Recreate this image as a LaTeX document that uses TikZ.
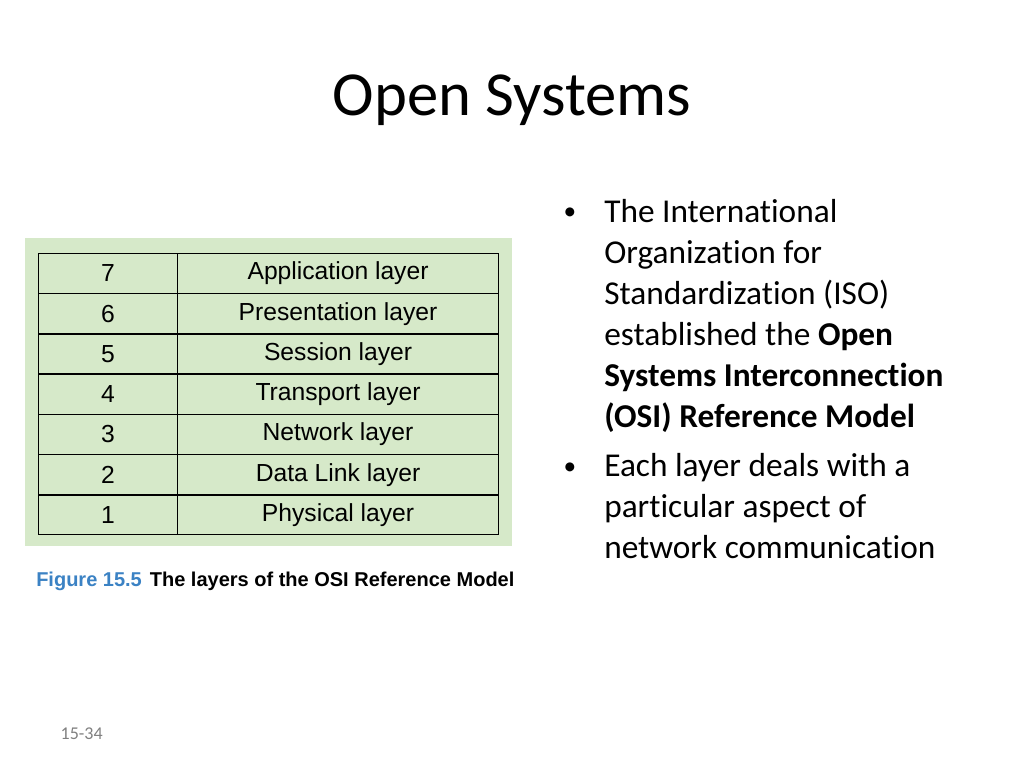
\documentclass[tikz,border=0pt]{standalone}
\usepackage{fontspec}
\setmainfont{Carlito}[Ligatures=NoCommon]
\newfontfamily\arialfont{Liberation Sans}
\usetikzlibrary{chains,positioning}
\definecolor{figgreen}{HTML}{D6E9C9}
\definecolor{figblue}{HTML}{3B82C4}
\begin{document}
\begin{tikzpicture}[x=0.75pt,y=-0.75pt]
        \useasboundingbox[fill=white] (0,0) rectangle (1024,768);

        \tikzstyle{num}=[draw,thick,minimum width=104pt,minimum height=29.8pt,font=\arialfont\fontsize{18.5}{21}\selectfont,inner sep=0pt]
        \tikzstyle{layer}=[num,minimum width=240.5pt]
        \tikzstyle{bullet}=[anchor=north west,align=left,font=\fontsize{25}{30.8}\selectfont,inner sep=0pt]
        \tikzstyle{dot}=[anchor=center,font=\fontsize{19}{19}\selectfont]

        \node (title) at (512,100) {\fontsize{47}{56}\selectfont Open Systems};

        % green panel behind the table
        \fill[figgreen] (25,238) rectangle (512,546);

        \begin{scope}[start chain=1 going below,node distance=-0.4pt]
        \node [on chain=1,num,anchor=north west] (n7) at (38,253) {7};
        \node [on chain=1,num] (n6) {6};
        \node [on chain=1,num] (n5) {5};
        \node [on chain=1,num] (n4) {4};
        \node [on chain=1,num] (n3) {3};
        \node [on chain=1,num] (n2) {2};
        \node [on chain=1,num] (n1) {1};
        \end{scope}

        %layer names beside the numbers
        \foreach \i/\name in {7/Application,6/Presentation,5/Session,4/Transport,3/Network,2/Data Link,1/Physical} {
            \node [layer,right=-0.4pt of n\i] (l\i) {\name\ layer};
        };

        \node [anchor=west,inner sep=0pt,font=\arialfont\bfseries\fontsize{15}{17}\selectfont] (caption) at (36,581)
            {\textcolor{figblue}{Figure 15.5}\hspace{6pt}The layers of the OSI Reference Model};

        \node [bullet] (b1) at (604,199) {The International\\Organization for\\Standardization (ISO)\\established the \textbf{Open}\\\textbf{Systems Interconnection}\\\textbf{(OSI) Reference Model}};
        \node [bullet] (b2) at (604,453) {Each layer deals with a\\particular aspect of\\network communication};
        \node [dot] (d1) at (570,214) {•};
        \node [dot] (d2) at (570,469) {•};

        \node [anchor=west,text=gray,font=\fontsize{13.5}{16}\selectfont] (page) at (56,734) {15-34};
\end{tikzpicture}
\end{document}
